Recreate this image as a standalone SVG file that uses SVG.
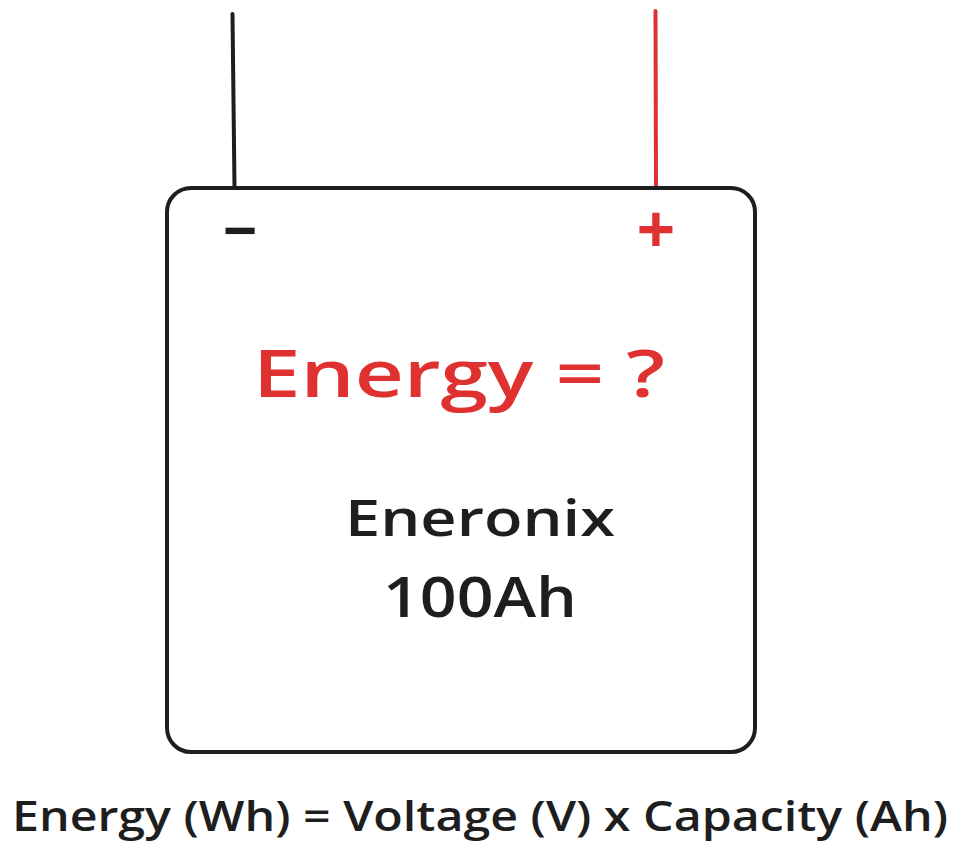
<svg xmlns="http://www.w3.org/2000/svg" width="968" height="851" viewBox="0 0 968 851">
<style>
.blk{fill:none;stroke:#1e1e1e;stroke-width:4;stroke-linecap:round;stroke-linejoin:round}
.redl{fill:none;stroke:#e03131;stroke-width:4;stroke-linecap:round}
.t{font-family:"Open Sans","Liberation Sans",sans-serif;fill:#1e1e1e}
.r{fill:#e03131}
</style>
<rect width="968" height="851" fill="#ffffff"/>
<g id="connectors">
<path class="blk" d="M232.5 14 L234.5 188"/>
<path class="redl" d="M655.5 11 L656 188"/>
</g>
<g id="battery">
<rect class="blk" x="167" y="188" width="588" height="564" rx="24" ry="24"/>
<text class="t" x="240" y="252" font-size="60" font-weight="bold" text-anchor="middle">−</text>
<text class="t r" x="656" y="254" font-size="68" font-weight="bold" text-anchor="middle">+</text>
</g>
<g id="question">
<text class="t r" x="253" y="397" font-size="66" font-weight="600" textLength="412" lengthAdjust="spacingAndGlyphs">Energy = ?</text>
</g>
<g id="label">
<text class="t" x="345" y="536" font-size="50" font-weight="600" textLength="270" lengthAdjust="spacingAndGlyphs">Eneronix</text>
<text class="t" x="383" y="617" font-size="56" font-weight="600" textLength="194" lengthAdjust="spacingAndGlyphs">100Ah</text>
</g>
<g id="formula">
<text class="t" x="12" y="831" font-size="42" font-weight="600" textLength="936" lengthAdjust="spacingAndGlyphs">Energy (Wh) = Voltage (V) x Capacity (Ah)</text>
</g>
</svg>
